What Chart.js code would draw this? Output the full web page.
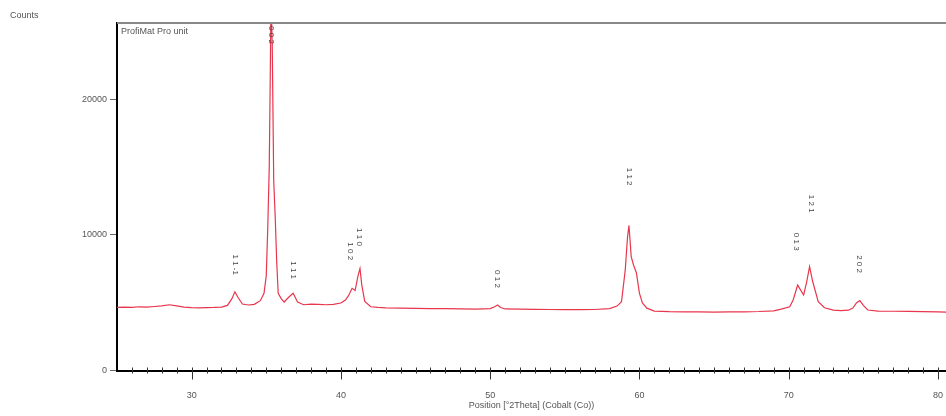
<!DOCTYPE html>
<html>

<head>
    <title>XRD pattern</title>
    <script src="https://cdn.jsdelivr.net/npm/chart.js@4.4.0/dist/chart.umd.min.js"></script>
    <style>
        html, body {
            margin: 0;
            padding: 0;
            background: #fff;
        }

        .wrap {
            position: relative;
            width: 946px;
            height: 416px;
        }
    </style>
</head>

<body>
    <div class="wrap"><canvas id="xrd_chart"></canvas></div>

    <script>
        const positions = [25.0, 25.5, 26.0, 26.5, 27.0, 27.5, 28.0, 28.5, 29.0, 29.5, 30.0, 30.5, 31.0, 31.5, 32.0,
            32.4, 32.7, 32.9, 33.1, 33.4, 33.8, 34.2, 34.6, 34.85, 35.0, 35.1, 35.2, 35.27, 35.32, 35.4, 35.5, 35.6,
            35.7, 35.8, 36.0, 36.2, 36.5, 36.8, 37.1, 37.5, 38.0, 38.5, 39.0, 39.5, 40.0, 40.3, 40.5, 40.75, 40.95,
            41.15, 41.28, 41.4, 41.6, 42.0, 42.5, 43.0, 44.0, 45.0, 46.0, 47.0, 48.0, 49.0, 50.0, 50.3, 50.5, 50.7,
            51.0, 52.0, 53.0, 54.0, 55.0, 56.0, 57.0, 58.0, 58.5, 58.8, 59.05, 59.2, 59.3, 59.45, 59.6, 59.8, 60.0,
            60.2, 60.5, 61.0, 62.0, 63.0, 64.0, 65.0, 66.0, 67.0, 68.0, 69.0, 69.5, 70.07, 70.3, 70.6, 71.0, 71.2,
            71.4, 71.6, 71.98, 72.4, 73.0, 73.5, 74.0, 74.3, 74.55, 74.77, 75.0, 75.3, 76.0, 77.0, 78.0, 79.0, 80.0, 80.7];
        const counts = [4650, 4680, 4660, 4700, 4680, 4720, 4760, 4850, 4760, 4680, 4640, 4620, 4640, 4650, 4680,
            4800, 5300, 5800, 5400, 4900, 4830, 4880, 5150, 5700, 7000, 10500, 15000, 22000, 27500, 24000, 14000, 11300,
            8000, 5700, 5300, 5050, 5400, 5700, 5050, 4850, 4900, 4880, 4850, 4880, 4980, 5200, 5500, 6060, 5900,
            7000, 7530, 6300, 5100, 4700, 4650, 4620, 4600, 4580, 4560, 4560, 4540, 4530, 4560, 4700, 4830, 4650,
            4540, 4520, 4510, 4500, 4490, 4490, 4500, 4560, 4750, 5070, 7400, 9800, 10700, 8400, 7800, 7190, 5710,
            4980, 4600, 4380, 4340, 4330, 4320, 4310, 4320, 4330, 4350, 4400, 4530, 4700, 5200, 6300, 5570, 6500,
            7660, 6600, 5070, 4630, 4450, 4420, 4450, 4610, 5000, 5150, 4800, 4460, 4380, 4370, 4360, 4340, 4320, 4300];

        // peak index labels
        const peakPos = [32.9, 35.3, 36.8, 40.6, 41.25, 50.5, 59.3, 70.5, 71.5, 74.7];
        const peakLabelY = [7800, 24750, 7400, 8800, 9850, 6750, 14300, 9500, 12300, 7850];
        const peakLabels = ["1 1 -1", "0 0 2", "1 1 1", "1 0 2", "1 1 0", "0 1 2", "1 1 2", "0 1 3", "1 2 1", "2 0 2"];

        const xTicks = [30, 40, 50, 60, 70, 80];
        const yTicks = [0, 10000, 20000];

        const points = positions.map((p, i) => ({ x: p, y: counts[i] }));
        const textColor = '#555';
        const font = 'Liberation Sans, Arial, sans-serif';

        const decorations = {
            id: 'decorations',
            afterDraw(chart) {
                const c = chart.ctx;
                const area = chart.chartArea;
                const xs = chart.scales.x;
                const ys = chart.scales.y;
                c.save();
                // top frame line
                c.strokeStyle = '#888';
                c.lineWidth = 2;
                c.beginPath();
                c.moveTo(area.left, area.top);
                c.lineTo(area.right, area.top);
                c.stroke();

                // minor ticks each degree
                c.strokeStyle = '#333';
                c.lineWidth = 1;
                for (let v = 26; v <= 80; v++) {
                    const px = Math.round(xs.getPixelForValue(v)) + 0.5;
                    const len = v % 10 === 0 ? 9 : 3;
                    c.beginPath();
                    c.moveTo(px, area.bottom - 3);
                    c.lineTo(px, area.bottom + len);
                    c.stroke();
                }

                // axis caption and sample name
                c.fillStyle = textColor;
                c.font = '9px ' + font;
                c.textBaseline = 'middle';
                c.textAlign = 'left';
                c.fillText('Counts', 10, 16);
                c.fillText('ProfiMat Pro unit', area.left + 4, area.top + 9);

                // peak labels, vertical
                c.font = '8px ' + font;
                c.fillStyle = '#444';
                c.textAlign = 'center';
                peakLabels.forEach((txt, i) => {
                    const px = xs.getPixelForValue(peakPos[i]);
                    const py = ys.getPixelForValue(peakLabelY[i]);
                    c.save();
                    c.translate(px, py);
                    c.rotate(Math.PI / 2);
                    c.fillText(txt, 0, 0);
                    c.restore();
                });
                c.restore();
            }
        };

        new Chart(document.getElementById('xrd_chart'), {
            type: 'line',
            data: {
                datasets: [{
                    label: 'ProfiMat Pro unit',
                    data: points,
                    borderColor: '#e8364c',
                    borderWidth: 1.2,
                    pointRadius: 0,
                    tension: 0,
                    fill: false
                }]
            },
            options: {
                responsive: true,
                maintainAspectRatio: false,
                animation: false,
                layout: {
                    padding: { top: 23, right: 0, left: 0, bottom: 0 }
                },
                plugins: {
                    legend: { display: false },
                    tooltip: { enabled: false }
                },
                scales: {
                    x: {
                        type: 'linear',
                        min: 25,
                        max: 80.54,
                        afterBuildTicks: (scale) => {
                            scale.ticks = xTicks.map(v => ({ value: v }));
                        },
                        afterFit: (scale) => {
                            scale.height = 45.5;
                            scale.paddingRight = 0;
                            scale.paddingLeft = 0;
                        },
                        grid: { display: false },
                        border: { color: '#000', width: 2 },
                        ticks: {
                            color: textColor,
                            font: { family: font, size: 9 },
                            padding: 12,
                            maxRotation: 0
                        },
                        title: {
                            display: true,
                            text: 'Position [°2Theta] (Cobalt (Co))',
                            color: textColor,
                            font: { family: font, size: 9 },
                            padding: { top: 0, bottom: 5 }
                        }
                    },
                    y: {
                        type: 'linear',
                        min: 0,
                        max: 25630,
                        afterBuildTicks: (scale) => {
                            scale.ticks = yTicks.map(v => ({ value: v }));
                        },
                        afterFit: (scale) => {
                            scale.width = 117;
                        },
                        grid: {
                            drawOnChartArea: false,
                            tickLength: 7,
                            tickColor: '#666'
                        },
                        border: { color: '#000', width: 2 },
                        ticks: {
                            color: textColor,
                            font: { family: font, size: 9 },
                            padding: 3,
                            callback: (v) => String(v)
                        }
                    }
                }
            },
            plugins: [decorations]
        });
    </script>
</body>

</html>
